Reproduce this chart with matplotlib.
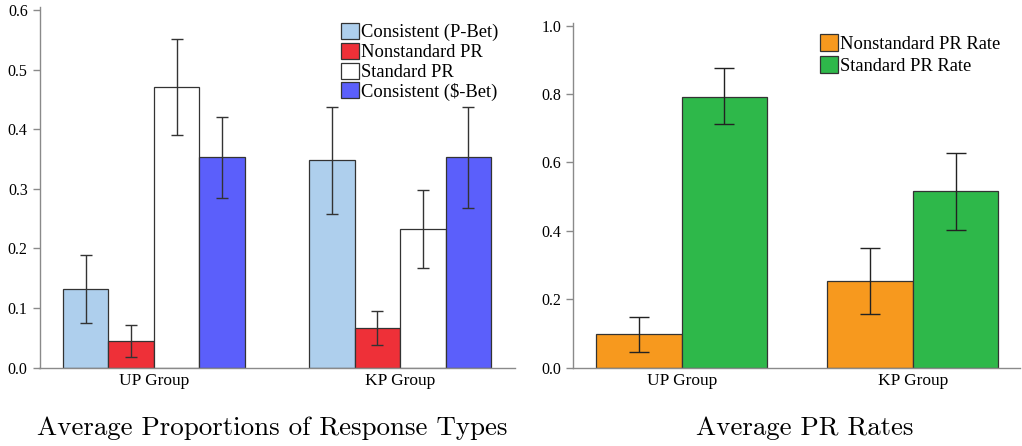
import matplotlib
matplotlib.use("Agg")
import matplotlib.pyplot as plt
from matplotlib.patches import Patch
import numpy as np

groups = ["UP Group", "KP Group"]

# Left panel: response types
left_labels = ["Consistent (P-Bet)", "Nonstandard PR", "Standard PR", "Consistent ($-Bet)"]
left_colors = ["#aecfed", "#ee3038", "#ffffff", "#5b5ffb"]
left_vals = [[0.132, 0.348], [0.045, 0.066], [0.471, 0.233], [0.353, 0.353]]
left_lo = [[0.075, 0.258], [0.018, 0.0375], [0.391, 0.168], [0.285, 0.268]]
left_hi = [[0.189, 0.438], [0.0716, 0.0956], [0.551, 0.298], [0.421, 0.438]]

# Right panel: PR rates
right_labels = ["Nonstandard PR Rate", "Standard PR Rate"]
right_colors = ["#f7991e", "#2eb84a"]
right_vals = [[0.0975, 0.2524], [0.792, 0.5156]]
right_lo = [[0.0458, 0.157], [0.7115, 0.4025]]
right_hi = [[0.149, 0.350], [0.875, 0.628]]

W, H = 1022, 446
fig = plt.figure(figsize=(W / 100, H / 100), dpi=100)

serif = "Liberation Serif"
spine_c = "#8a8a8a"
edge_c = "#333333"

def style_axes(ax):
    for s in ["top", "right"]:
        ax.spines[s].set_visible(False)
    for s in ["left", "bottom"]:
        ax.spines[s].set_color(spine_c)
        ax.spines[s].set_linewidth(1.0)
    ax.tick_params(axis="y", colors=spine_c, length=5, width=1.0, labelcolor="black")
    ax.tick_params(axis="x", length=0, pad=4, labelcolor="black")
    for lab in ax.get_yticklabels():
        lab.set_fontfamily(serif)
        lab.set_fontsize(11.5)
    for lab in ax.get_xticklabels():
        lab.set_fontfamily(serif)
        lab.set_fontsize(12.5)

# ---- Left axes
x0, x1 = 39.5, 515
yb, yt = 367.7, 7
axL = fig.add_axes([x0 / W, 1 - yb / H, (x1 - x0) / W, (yb - yt) / H])
xg = np.arange(len(groups))
wL = 0.185
for i in range(len(left_labels)):
    xs = xg + (i - 1.5) * wL
    vals = np.array(left_vals[i])
    err = [vals - np.array(left_lo[i]), np.array(left_hi[i]) - vals]
    axL.bar(xs, vals, width=wL, color=left_colors[i], edgecolor=edge_c, linewidth=0.9, zorder=2)
    axL.errorbar(xs, vals, yerr=err, fmt="none", ecolor="#333333", elinewidth=1.0,
                 capsize=4.3, capthick=1.0, zorder=3)
axL.set_xlim(-0.465, 1.467)
axL.set_ylim(0, 0.6 * (yb - yt) / (yb - 10))
axL.set_yticks([0.0, 0.1, 0.2, 0.3, 0.4, 0.5, 0.6])
axL.set_yticklabels(["0.0", "0.1", "0.2", "0.3", "0.4", "0.5", "0.6"])
axL.set_xticks(xg)
axL.set_xticklabels(groups)
style_axes(axL)
handlesL = [Patch(facecolor=c, edgecolor=edge_c, linewidth=0.9) for c in left_colors]
axL.legend(handlesL, left_labels, loc="upper left", bbox_to_anchor=((341 - x0) / (x1 - x0), 1 - (23 - yt) / (yb - yt)),
           frameon=False, prop=dict(family=serif, size=13.3),
           handlelength=0.95, handleheight=0.95, handletextpad=0.12, labelspacing=0.08,
           borderaxespad=0, borderpad=0)

# ---- Right axes
rx0, rx1 = 573.3, 1020
ryt = 23
axR = fig.add_axes([rx0 / W, 1 - yb / H, (rx1 - rx0) / W, (yb - ryt) / H])
wR = 0.37
for i in range(len(right_labels)):
    xs = xg + (i - 0.5) * wR
    vals = np.array(right_vals[i])
    err = [vals - np.array(right_lo[i]), np.array(right_hi[i]) - vals]
    axR.bar(xs, vals, width=wR, color=right_colors[i], edgecolor=edge_c, linewidth=0.9, zorder=2)
    axR.errorbar(xs, vals, yerr=err, fmt="none", ecolor="#222222", elinewidth=1.0,
                 capsize=7.2, capthick=1.0, zorder=3)
axR.set_xlim(-0.469, 1.464)
axR.set_ylim(0, 1.0 * (yb - ryt) / (yb - 25.7))
axR.set_yticks([0.0, 0.2, 0.4, 0.6, 0.8, 1.0])
axR.set_yticklabels(["0.0", "0.2", "0.4", "0.6", "0.8", "1.0"])
axR.set_xticks(xg)
axR.set_xticklabels(groups)
style_axes(axR)
handlesR = [Patch(facecolor=c, edgecolor=edge_c, linewidth=0.9) for c in right_colors]
axR.legend(handlesR, right_labels, loc="upper left", bbox_to_anchor=((820 - rx0) / (rx1 - rx0), 1 - (34 - ryt) / (yb - ryt)),
           frameon=False, prop=dict(family=serif, size=13.3),
           handlelength=0.95, handleheight=1.05, handletextpad=0.12, labelspacing=0.15,
           borderaxespad=0, borderpad=0)

# ---- Titles
fig.text(272 / W, 1 - 428 / H, "Average Proportions of Response Types", ha="center", va="center",
         family="cmr10", fontsize=19.4)
fig.text(805 / W, 1 - 428 / H, "Average PR Rates", ha="center", va="center",
         family="cmr10", fontsize=19.4)

fig.savefig("out.png", dpi=100)
